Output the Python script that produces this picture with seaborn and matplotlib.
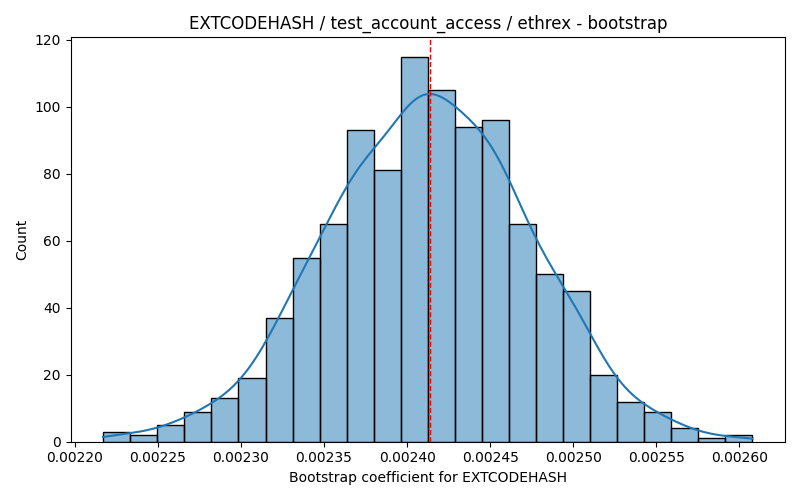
import numpy as np
import pandas as pd
import matplotlib
matplotlib.use('Agg')
import matplotlib.pyplot as plt
import seaborn as sb

# bootstrap histogram
bin_lo = 0.002217
bin_hi = 0.002608
counts = [3, 2, 5, 9, 13, 19, 37, 55, 65, 93, 81, 115,
          105, 94, 96, 65, 50, 45, 20, 12, 9, 4, 1, 2]
mean_coef = 0.0024136

edges = np.linspace(bin_lo, bin_hi, len(counts) + 1)
centers = (edges[:-1] + edges[1:]) / 2
df = pd.DataFrame({'coef': centers, 'n': counts})

fig, ax = plt.subplots(figsize=(8, 5), dpi=100)
# weighted bin centres give a too wide kde, so narrow the bandwidth
sb.histplot(data=df, x='coef', weights='n', bins=len(counts),
            binrange=(bin_lo, bin_hi), kde=True, ax=ax,
            kde_kws={'bw_adjust': 0.42, 'cut': 0.32})
ax.axvline(mean_coef, color='red', linestyle='--', linewidth=1)
ax.set_title('EXTCODEHASH / test_account_access / ethrex - bootstrap')
ax.set_xlabel('Bootstrap coefficient for EXTCODEHASH')
ax.set_ylabel('Count')
plt.tight_layout()
plt.savefig('out.png')
